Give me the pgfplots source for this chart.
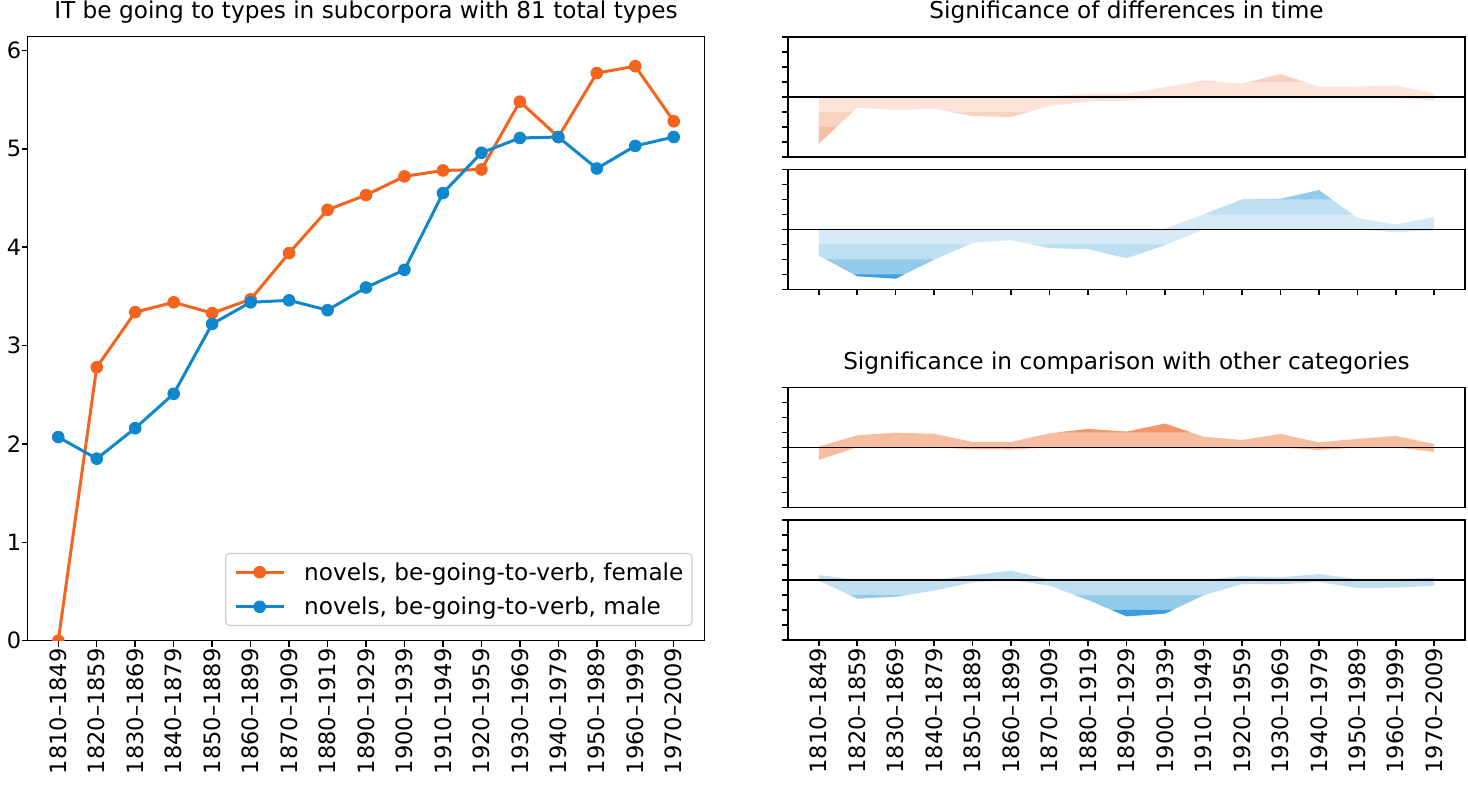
\documentclass[border=0pt]{standalone}
\usepackage{fontspec}
\setmainfont{DejaVu Sans}
\usepackage{pgfplots}
\pgfplotsset{compat=1.18}
\usepackage{pgfplotstable}

\definecolor{cF}{HTML}{F5641E}
\definecolor{cM}{HTML}{1086CC}
% band colours
\definecolor{oA}{HTML}{FCE4DA}
\definecolor{oB}{HTML}{F9D3C2}
\definecolor{oC}{HTML}{F7BFA5}
\definecolor{oD}{HTML}{F4A582}
\definecolor{bA}{HTML}{D6EAF6}
\definecolor{bB}{HTML}{BEDFF1}
\definecolor{bC}{HTML}{92CBEA}
\definecolor{bD}{HTML}{3CA0DC}
\definecolor{pA}{HTML}{F7BDA0}
\definecolor{pB}{HTML}{F4966A}
\definecolor{pC}{HTML}{F07A40}
\definecolor{pD}{HTML}{E8632A}
\definecolor{qA}{HTML}{C0E0F2}
\definecolor{qB}{HTML}{92CBEA}
\definecolor{qC}{HTML}{3A9FDC}
\definecolor{qD}{HTML}{1F86C8}

\newcommand\tickfont{\fontsize{22.5}{27}\selectfont}
\newcommand\titlefont{\fontsize{23.2}{28}\selectfont}

\pgfplotstableread{
x y
0 0
1 2.78
2 3.34
3 3.44
4 3.33
5 3.47
6 3.94
7 4.38
8 4.53
9 4.72
10 4.78
11 4.79
12 5.48
13 5.12
14 5.77
15 5.84
16 5.28
}\tabF

\pgfplotstableread{
x y
0 2.07
1 1.85
2 2.16
3 2.51
4 3.22
5 3.44
6 3.46
7 3.36
8 3.59
9 3.77
10 4.55
11 4.96
12 5.11
13 5.12
14 4.80
15 5.03
16 5.12
}\tabM

% significance panels: upper edge (0..16) then lower edge (16..0)
\pgfplotstableread{
x y
0 0
1 0
2 0
3 0
4 0
5 0
6 0.05
7 0.2
8 0.22
9 0.67
10 1.09
11 0.89
12 1.53
13 0.69
14 0.69
15 0.78
16 0.22
16 -0.22
15 -0.05
14 0
13 0
12 0
11 0
10 0
9 0
8 -0.24
7 -0.31
6 -0.6
5 -1.33
4 -1.27
3 -0.78
2 -0.87
1 -0.71
0 -3.1
}\polyA

\pgfplotstableread{
x y
0 0
1 0
2 0
3 0
4 0
5 0
6 0
7 0
8 0
9 0.05
10 1.0
11 2.0
12 2.04
13 2.62
14 0.78
15 0.33
16 0.84
16 -0.05
15 -0.18
14 0
13 0
12 0
11 0
10 0
9 -1.04
8 -1.91
7 -1.31
6 -1.24
5 -0.71
4 -0.89
3 -2.0
2 -3.27
1 -3.11
0 -1.73
}\polyB

\pgfplotstableread{
x y
0 0.05
1 0.8
2 0.98
3 0.9
4 0.36
5 0.36
6 0.93
7 1.22
8 1.04
9 1.58
10 0.71
11 0.49
12 0.89
13 0.33
14 0.56
15 0.76
16 0.22
16 -0.31
15 0
14 -0.02
13 -0.18
12 0
11 0
10 0
9 0
8 0
7 0
6 0
5 -0.15
4 -0.13
3 0
2 0
1 0
0 -0.84
}\polyC

\pgfplotstableread{
x y
0 0.33
1 0
2 0
3 0
4 0.33
5 0.62
6 0.04
7 0
8 0
9 0
10 0
11 0.24
12 0.18
13 0.4
14 0.05
15 0.05
16 0.16
16 -0.38
15 -0.51
14 -0.53
13 -0.13
12 -0.29
11 -0.27
10 -1.02
9 -2.24
8 -2.42
7 -1.33
6 -0.38
5 0
4 -0.16
3 -0.71
2 -1.11
1 -1.24
0 -0.04
}\polyD

\newcommand\bands[5]{%
  \addplot[fill=#2, draw=none] table {#1};
  \begin{scope}
    \clip (axis cs:-1,1) rectangle (axis cs:17,5) (axis cs:-1,-1) rectangle (axis cs:17,-5);
    \addplot[fill=#3, draw=none] table {#1};
  \end{scope}
  \begin{scope}
    \clip (axis cs:-1,2) rectangle (axis cs:17,5) (axis cs:-1,-2) rectangle (axis cs:17,-5);
    \addplot[fill=#4, draw=none] table {#1};
  \end{scope}
  \begin{scope}
    \clip (axis cs:-1,3) rectangle (axis cs:17,5) (axis cs:-1,-3) rectangle (axis cs:17,-5);
    \addplot[fill=#5, draw=none] table {#1};
  \end{scope}
  \addplot[black, line width=1.3pt] coordinates {(-0.8,0) (16.8,0)};
}

\pgfplotsset{
  common/.style={
    scale only axis, anchor=south west,
    xmin=-0.8, xmax=16.8,
    axis line style={line width=1.5pt},
    tick style={line width=1.5pt, black},
    tick align=outside, major tick length=6pt,
    xtick pos=bottom, ytick pos=left,
    xticklabel style={rotate=90, anchor=east, font=\tickfont, inner sep=1.5pt},
    yticklabel style={font=\tickfont, inner sep=0pt},
    /pgf/number format/assume math mode=true,
    title style={at={(0.5,1)}, anchor=base, yshift=12pt, font=\titlefont, inner sep=0pt},
  },
  sig/.style={
    common, width=677pt, height=120pt,
    ymin=-4, ymax=4, ytick={-4,...,4}, yticklabels={},
  },
}

\def\yearlabels{1810–1849,1820–1859,1830–1869,1840–1879,1850–1889,1860–1899,1870–1909,1880–1919,1890–1929,1900–1939,1910–1949,1920–1959,1930–1969,1940–1979,1950–1989,1960–1999,1970–2009}

\begin{document}
\begin{tikzpicture}
\path[use as bounding box] (0,0) rectangle (1468pt,787pt);

\begin{axis}[common, at={(27.5pt,146.3pt)}, width=677pt, height=604pt,
  ymin=0, ymax=6.14, ytick={0,...,6},
  xtick={0,...,16}, xticklabels/.expand once=\yearlabels,
  title={IT be going to types in subcorpora with 81 total types},
  clip marker paths=true,
  legend cell align=left,
  legend style={at={(1,0)}, anchor=south east, xshift=-12pt, yshift=14.5pt,
    draw=black!20, line width=1.2pt, rounded corners=4pt, fill=white,
    font=\titlefont, inner xsep=8.5pt, inner ysep=9.2pt,
    nodes={inner sep=0pt}, row sep=15.5pt, column sep=19pt},
  legend image code/.code={\draw[mark repeat=2, mark phase=2] plot coordinates {(0pt,0pt) (24pt,0pt) (48pt,0pt)};},
]
\addplot[cF, line width=3pt, mark=*, mark size=5.8pt, mark options={line width=1pt}] table {\tabF};
\addlegendentry{novels, be-going-to-verb, female}
\addplot[cM, line width=3pt, mark=*, mark size=5.8pt, mark options={line width=1pt}] table {\tabM};
\addlegendentry{novels, be-going-to-verb, male}
\end{axis}

\begin{axis}[sig, at={(788pt,630pt)}, xtick=\empty,
  title={Significance of differences in time}]
\bands{\polyA}{oA}{oB}{oC}{oD}
\end{axis}

\begin{axis}[sig, at={(788pt,497.5pt)}, xtick={0,...,16}, xticklabels={}]
\bands{\polyB}{bA}{bB}{bC}{bD}
\end{axis}

\begin{axis}[sig, at={(788pt,279.7pt)}, xtick=\empty,
  title={Significance in comparison with other categories}]
\bands{\polyC}{pA}{pB}{pC}{pD}
\end{axis}

\begin{axis}[sig, at={(788pt,147pt)}, xtick={0,...,16}, xticklabels/.expand once=\yearlabels]
\bands{\polyD}{qA}{qB}{qC}{qD}
\end{axis}

\end{tikzpicture}
\end{document}
